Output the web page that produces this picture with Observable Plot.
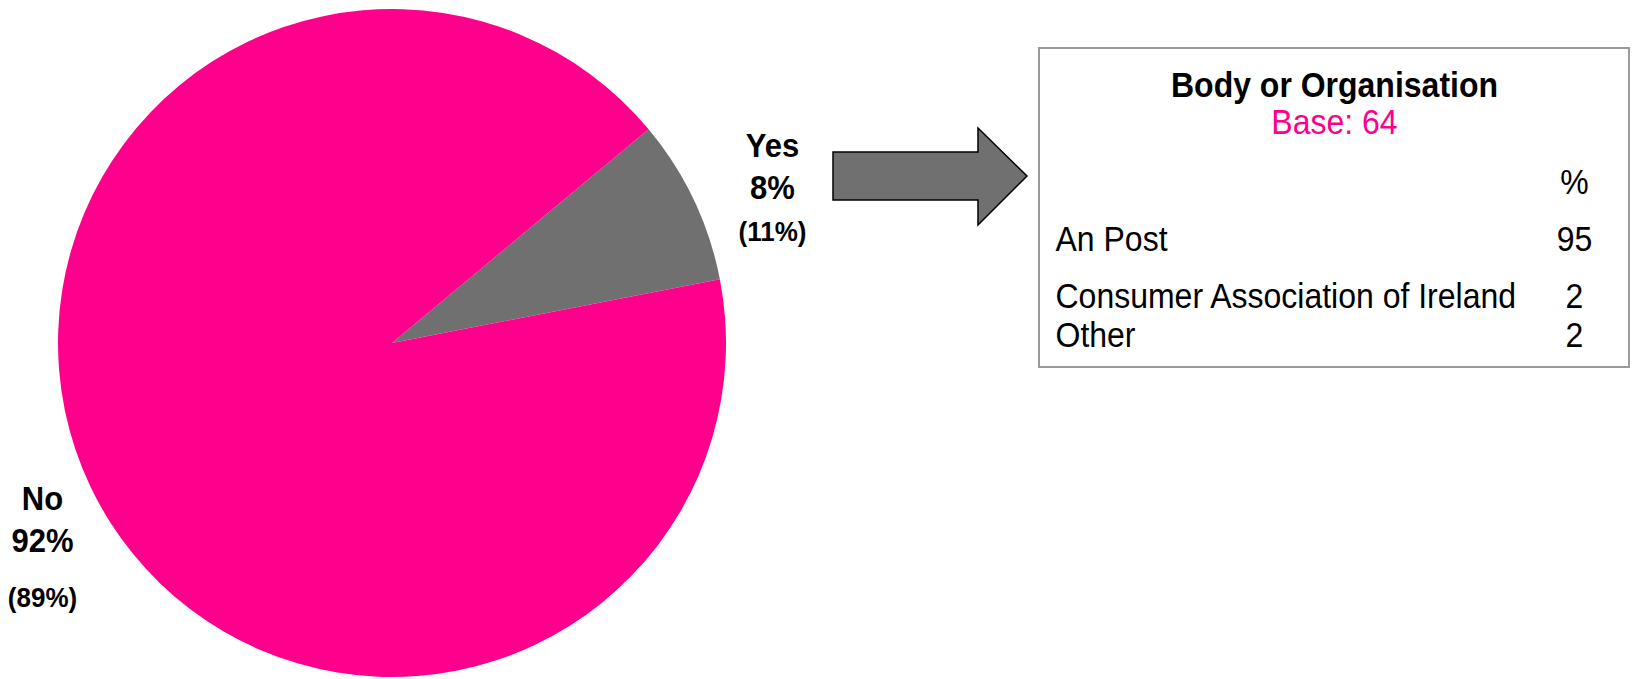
<!DOCTYPE html>
<html>
<head>
<meta charset="utf-8">
<script src="https://cdn.jsdelivr.net/npm/d3@7"></script>
<script src="https://cdn.jsdelivr.net/npm/@observablehq/plot@0.6"></script>
<style>
  html, body { margin: 0; padding: 0; background: #fff; }
  #chart svg { display: block; }
</style>
</head>
<body>
<div id="chart"></div>
<script>
// ---- data ----
const categories = ["Yes", "No"];
const shares = [8, 92];            // current %
const previousShares = [11, 89];   // previous % (in brackets)
const tableTitle = "Body or Organisation";
const tableBase = 64;
const organisations = ["An Post", "Consumer Association of Ireland", "Other"];
const organisationShares = [95, 2, 2];

// ---- layout (pixels) ----
const W = 1632, H = 679;
const pink = "#FF008C", grey = "#707070";
const font = "'Liberation Sans', Arial, Helvetica, sans-serif";
const pie = {cx: 392, cy: 343, r: 334, start: 50.2};
const labelPos = {
  Yes: {x: 772, y: [156, 198, 240]},
  No:  {x: 42,  y: [509, 551, 606]}
};
const box = {x1: 1039, x2: 1629, y1: 48, y2: 367};
const rowY = [250, 307, 346];
const nameX = 1055, valueX = 1574;

const slices = categories.map((c, i) => ({category: c, share: shares[i], previous: previousShares[i]}));
const rows = organisations.map((o, i) => ({name: o, value: organisationShares[i]}));

// pie slices drawn with d3.pie / d3.arc positioned through Plot's scales
function pieMark(index, scales) {
  const g = d3.create("svg:g");
  const cx = scales.x(pie.cx), cy = scales.y(pie.cy);
  const r = scales.x(pie.cx + pie.r) - cx;
  const a0 = pie.start * Math.PI / 180;
  const arcs = d3.pie().sort(null).value(d => d.share).startAngle(a0).endAngle(a0 + 2 * Math.PI)(slices);
  const arc = d3.arc().innerRadius(0).outerRadius(r);
  const color = d3.scaleOrdinal().domain(categories).range([grey, pink]);
  g.selectAll("path").data(arcs).join("path")
    .attr("transform", `translate(${cx},${cy})`)
    .attr("d", arc)
    .attr("fill", d => color(d.data.category))
    .attr("stroke", "none");
  return g.node();
}

// block arrow pointing to the table
function arrowMark(index, scales) {
  const pts = [[833,152],[978,152],[978,128],[1027,176],[978,225],[978,200],[833,200]]
    .map(([x, y]) => [scales.x(x), scales.y(y)]);
  const g = d3.create("svg:g");
  g.append("path")
    .attr("d", "M" + pts.map(p => p.join(",")).join("L") + "Z")
    .attr("fill", grey).attr("stroke", "#000").attr("stroke-width", 1.5)
    .attr("stroke-linejoin", "miter");
  return g.node();
}

const labelLines = [];
slices.forEach(s => {
  const p = labelPos[s.category];
  labelLines.push({x: p.x, y: p.y[0], text: s.category, kind: "main"});
  labelLines.push({x: p.x, y: p.y[1], text: `${s.share}%`, kind: "main"});
  labelLines.push({x: p.x, y: p.y[2], text: `(${s.previous}%)`, kind: "prev"});
});

const chart = Plot.plot({
  width: W, height: H,
  margin: 0,
  x: {domain: [0, W], range: [0, W], axis: null},
  y: {domain: [0, H], range: [0, H], axis: null},
  style: {fontFamily: font, background: "#fff", overflow: "visible"},
  marks: [
    pieMark,
    Plot.text(labelLines.filter(d => d.kind === "main"), {
      x: "x", y: "y", text: "text", fontSize: 31, fontWeight: "bold",
      fill: "#000", lineAnchor: "bottom", textAnchor: "middle"
    }),
    Plot.text(labelLines.filter(d => d.kind === "prev"), {
      x: "x", y: "y", text: "text", fontSize: 26, fontWeight: "bold",
      fill: "#000", lineAnchor: "bottom", textAnchor: "middle"
    }),
    arrowMark,
    Plot.rect([box], {x1: "x1", x2: "x2", y1: "y1", y2: "y2", fill: "#fff", stroke: "#9a9a9a", strokeWidth: 2}),
    Plot.text([tableTitle], {x: () => (box.x1 + box.x2) / 2, y: () => 96, text: d => d, fontSize: 32, fontWeight: "bold", fill: "#000", lineAnchor: "bottom"}),
    Plot.text([`Base: ${tableBase}`], {x: () => (box.x1 + box.x2) / 2, y: () => 133, text: d => d, fontSize: 32, fill: pink, lineAnchor: "bottom"}),
    Plot.text(["%"], {x: () => valueX, y: () => 193, text: d => d, fontSize: 32, fill: "#000", lineAnchor: "bottom"}),
    Plot.text(rows, {x: () => nameX, y: (d, i) => rowY[i], text: "name", fontSize: 32, fill: "#000", textAnchor: "start", lineAnchor: "bottom"}),
    Plot.text(rows, {x: () => valueX, y: (d, i) => rowY[i], text: d => String(d.value), fontSize: 32, fill: "#000", textAnchor: "middle", lineAnchor: "bottom"})
  ]
});

// the reference type is slightly taller than wide: stretch each text around its baseline
d3.select(chart).selectAll("text").each(function () {
  const t = this.getAttribute("transform") || "";
  if (t.includes("translate")) this.setAttribute("transform", t + " scale(1,1.07)");
});

document.getElementById("chart").appendChild(chart);
</script>
</body>
</html>
